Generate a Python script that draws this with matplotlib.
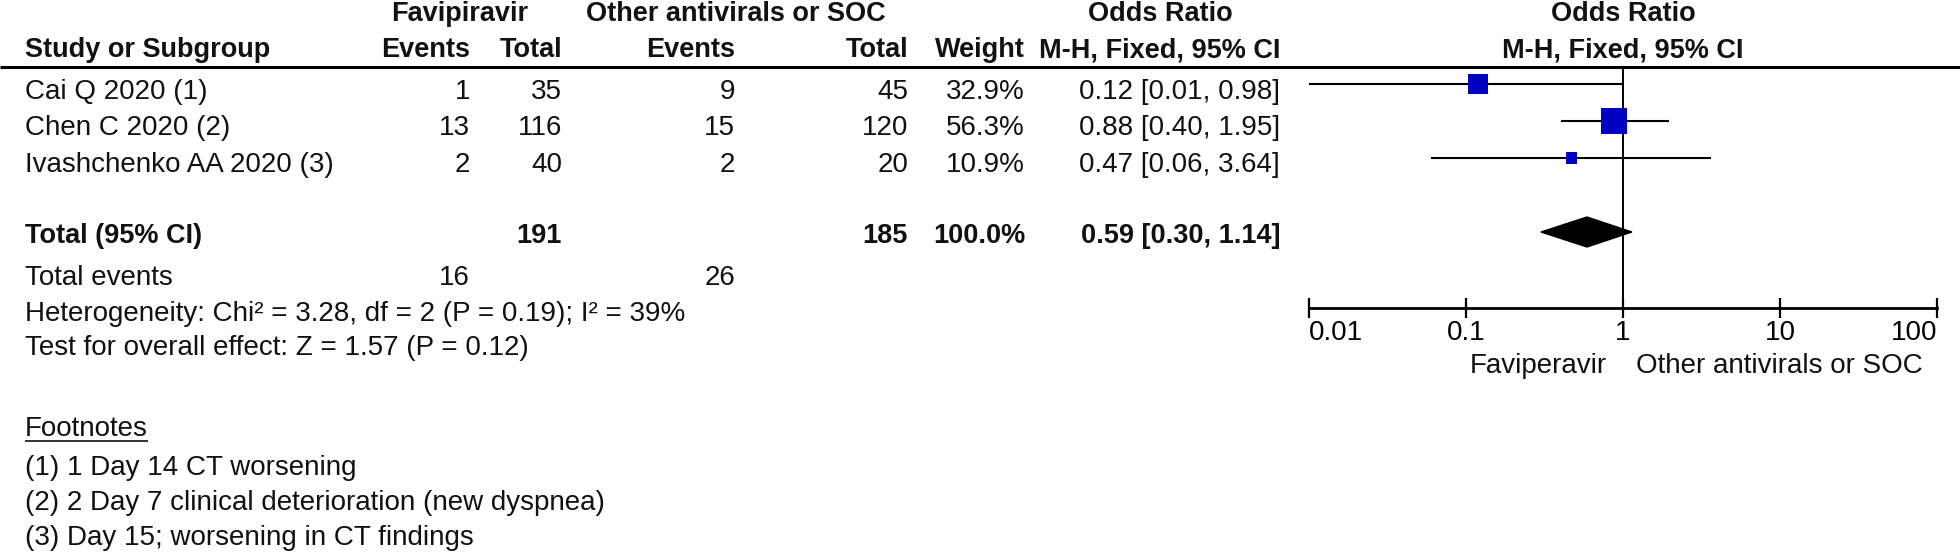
import numpy as np
import matplotlib
matplotlib.use("Agg")
import matplotlib.pyplot as plt

plt.rcParams['font.family'] = ['Liberation Sans', 'DejaVu Sans']

# data
studies = ["Cai Q 2020 (1)", "Chen C 2020 (2)", "Ivashchenko AA 2020 (3)"]
fav_events = [1, 13, 2]
fav_total = [35, 116, 40]
ctl_events = [9, 15, 2]
ctl_total = [45, 120, 20]
weights = [32.9, 56.3, 10.9]
or_est = [0.12, 0.88, 0.47]
ci_lo = [0.01, 0.40, 0.06]
ci_hi = [0.98, 1.95, 3.64]
pooled_or = [0.59, 0.30, 1.14]
tot_fav, tot_ctl = 191, 185
tot_ev_fav, tot_ev_ctl = 16, 26
het_text = "Heterogeneity: Chi\u00b2 = 3.28, df = 2 (P = 0.19); I\u00b2 = 39%"
effect_text = "Test for overall effect: Z = 1.57 (P = 0.12)"
footnotes = ["(1) 1 Day 14 CT worsening",
             "(2) 2 Day 7 clinical deterioration (new dyspnea)",
             "(3) Day 15; worsening in CT findings"]
ticks = [0.01, 0.1, 1, 10, 100]
tick_labels = ["0.01", "0.1", "1", "10", "100"]

W, H = 1960, 554
FS = 20      # regular text
FSB = 19.5   # bold text
fig = plt.figure(figsize=(W / 100, H / 100), dpi=100)
ax = fig.add_axes([0, 0, 1, 1])
ax.set_xlim(0, W)
ax.set_ylim(H, 0)
ax.axis("off")

# column x positions (pixels)
x_lab = 25
x_ev1, x_tot1, x_ev2, x_tot2, x_w, x_or = 470, 562, 735, 908, 1025, 1280


def txt(x, y, s, ha="right", bold=False, **kw):
    return ax.text(x, y, s, ha=ha, va="baseline", fontsize=FSB if bold else FS,
                   fontweight="bold" if bold else "normal", color="#111111", **kw)


# headers
txt(460, 21, "Favipiravir", ha="center", bold=True)
txt(736, 21, "Other antivirals or SOC", ha="center", bold=True)
txt(1160, 21, "Odds Ratio", ha="center", bold=True)
txt(1623, 21, "Odds Ratio", ha="center", bold=True)
txt(x_lab, 57, "Study or Subgroup", ha="left", bold=True)
txt(x_ev1, 57, "Events", bold=True)
txt(x_tot1, 57, "Total", bold=True)
txt(x_ev2, 57, "Events", bold=True)
txt(x_tot2, 57, "Total", bold=True)
txt(x_w, 57, "Weight", bold=True)
txt(1160, 57, "M-H, Fixed, 95% CI", ha="center", bold=True)
txt(1623, 57, "M-H, Fixed, 95% CI", ha="center", bold=True)
ax.hlines(67, 0, W, color="black", lw=2.2)

# study rows
row_base = [99, 135, 172]
for i, name in enumerate(studies):
    y = row_base[i]
    txt(x_lab, y, name, ha="left")
    txt(x_ev1, y, str(fav_events[i]))
    txt(x_tot1, y, str(fav_total[i]))
    txt(x_ev2, y, str(ctl_events[i]))
    txt(x_tot2, y, str(ctl_total[i]))
    txt(x_w, y, "%.1f%%" % weights[i])
    txt(x_or, y, "%.2f [%.2f, %.2f]" % (or_est[i], ci_lo[i], ci_hi[i]))

# totals
yt = 243
txt(x_lab, yt, "Total (95% CI)", ha="left", bold=True)
txt(x_tot1, yt, str(tot_fav), bold=True)
txt(x_tot2, yt, str(tot_ctl), bold=True)
txt(x_w, yt, "100.0%", bold=True)
txt(x_or, yt, "%.2f [%.2f, %.2f]" % tuple(pooled_or), bold=True)
txt(x_lab, 285, "Total events", ha="left")
txt(x_ev1, 285, str(tot_ev_fav))
txt(x_ev2, 285, str(tot_ev_ctl))
txt(x_lab, 321, het_text, ha="left")
txt(x_lab, 355, effect_text, ha="left")

# footnotes
fn = txt(x_lab, 436, "Footnotes", ha="left")
for j, f in enumerate(footnotes):
    txt(x_lab, 475 + 35 * j, f, ha="left")
fig.canvas.draw()
bb = fn.get_window_extent().transformed(ax.transData.inverted())
ax.hlines(441, bb.x0, bb.x1, color="#111111", lw=1.2)

# forest plot
x0, x1 = 1309, 1937
ax2 = fig.add_axes([x0 / W, 0, (x1 - x0) / W, 1])
ax2.patch.set_alpha(0)
ax2.set_xscale("log")
ax2.set_xlim(0.01, 100)
ax2.set_ylim(H, 0)
for s in ["top", "left", "right"]:
    ax2.spines[s].set_visible(False)
ax2.spines["bottom"].set_position(("data", 308))
ax2.spines["bottom"].set_linewidth(2)
ax2.set_yticks([])
ax2.minorticks_off()
ax2.set_xticks(ticks)
ax2.set_xticklabels(tick_labels, fontsize=FS)
ax2.tick_params(axis="x", direction="inout", length=14, width=1.6, pad=2)
labs = ax2.get_xticklabels()
labs[0].set_ha("left")
labs[-1].set_ha("right")

ax2.vlines(1, 67, 308, color="black", lw=1.4)

mk_y = [84, 121, 158]
side_px = 26 * np.sqrt(np.array(weights) / max(weights))
for i in range(len(studies)):
    ax2.hlines(mk_y[i], ci_lo[i], ci_hi[i], color="black", lw=1.5, clip_on=False)
ax2.scatter(or_est, mk_y, marker="s", s=(side_px * 0.72) ** 2,
            color="#0000c0", edgecolors="#0000c0", linewidths=0, zorder=3, clip_on=False)

yd = 232
ax2.fill([pooled_or[1], pooled_or[0], pooled_or[2], pooled_or[0]],
         [yd, yd - 15, yd, yd + 15], color="black", zorder=3)

txt(1607, 373, "Faviperavir", ha="right")
txt(1636, 373, "Other antivirals or SOC", ha="left")

fig.savefig("out.png", dpi=100)
